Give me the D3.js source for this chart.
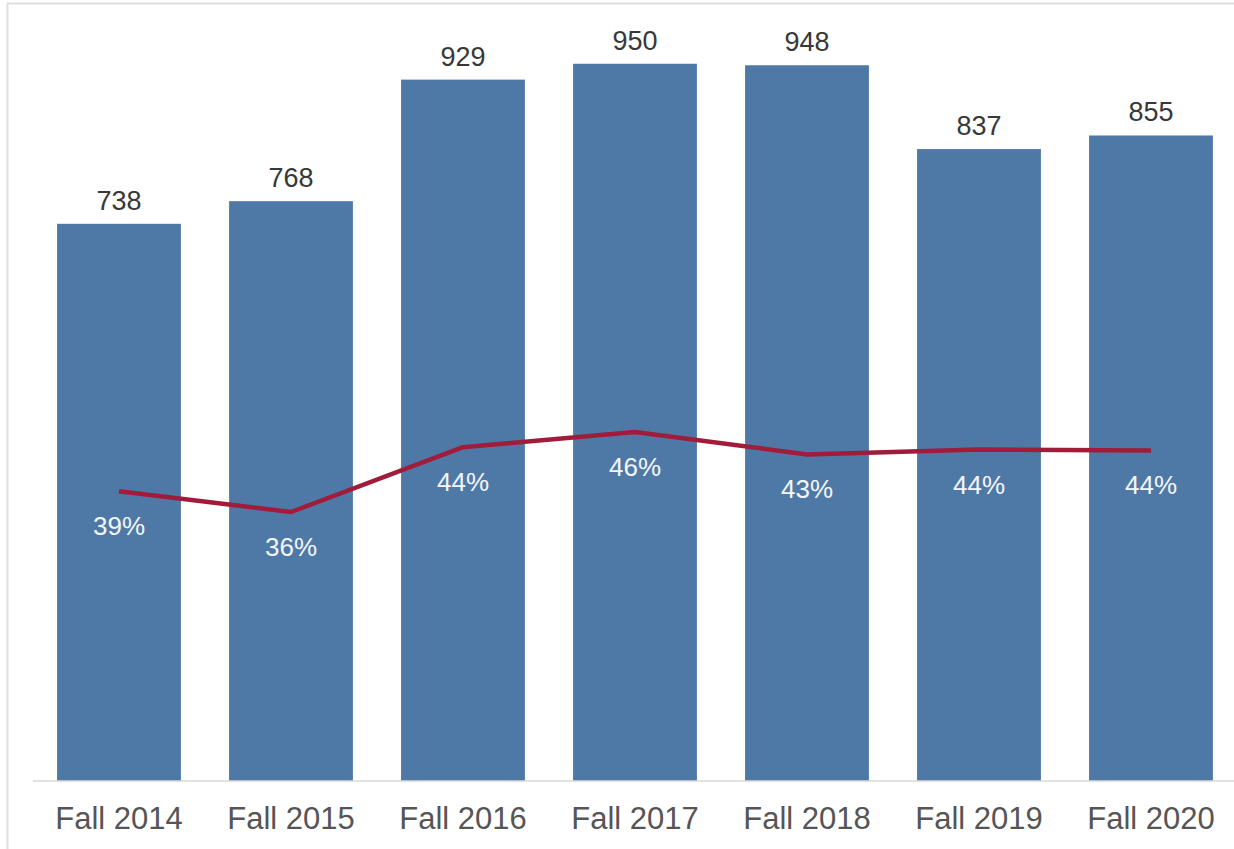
<!DOCTYPE html>
<html>
<head>
<meta charset="utf-8">
<script src="https://cdn.jsdelivr.net/npm/d3@7"></script>
<style>
  body { margin: 0; background: #fff; }
  svg { display: block; font-family: "Liberation Sans", Arial, sans-serif; }
</style>
</head>
<body>
<div id="chart"></div>
<script>
// terms, headcount per fall term and the share (%) drawn as the red line
const terms = ["Fall 2014", "Fall 2015", "Fall 2016", "Fall 2017", "Fall 2018", "Fall 2019", "Fall 2020"];
const counts = [738, 768, 929, 950, 948, 837, 855];
const shares = [38.6, 36.0, 44.1, 46.0, 43.2, 43.8, 43.7];

const width = 1234;
const height = 849;

const svg = d3
  .select("#chart")
  .append("svg")
  .attr("width", width)
  .attr("height", height);

// frame of the original screenshot
svg.append("path")
  .attr("d", "M7.5," + height + "V3.5H" + width)
  .attr("fill", "none")
  .attr("stroke", "#dedede")
  .attr("stroke-width", 2);

const x = d3
  .scaleBand()
  .domain(terms)
  .range([33, 1237])
  .paddingInner(0.28)
  .paddingOuter(0.14);

const y = d3.scaleLinear().domain([0, 1000]).range([781, 26]);
// second scale for the percentages
const y2 = d3.scaleLinear().domain([0, 100]).range([800, 0]);

// bars
svg.selectAll(".bar")
  .data(counts)
  .enter()
  .append("rect")
  .attr("class", "bar")
  .attr("x", (d, i) => x(terms[i]))
  .attr("width", x.bandwidth())
  .attr("y", d => y(d))
  .attr("height", d => y(0) - y(d))
  .attr("fill", "#4e79a7");

// bar value labels
svg.selectAll(".count")
  .data(counts)
  .enter()
  .append("text")
  .attr("class", "count")
  .attr("x", (d, i) => x(terms[i]) + x.bandwidth() / 2)
  .attr("y", d => y(d) - 14)
  .attr("text-anchor", "middle")
  .attr("font-size", 27)
  .attr("fill", "#383838")
  .text(d => d);

// x axis
const xAxis = svg.append("g")
  .attr("transform", "translate(0," + y(0) + ")")
  .call(d3.axisBottom(x).tickSize(0).tickPadding(0));
xAxis.select(".domain").remove();
xAxis.append("line")
  .attr("x1", 33)
  .attr("x2", width)
  .attr("stroke", "#d9d9d9")
  .attr("stroke-width", 1.5);
xAxis.selectAll(".tick text")
  .attr("y", 48)
  .attr("dy", 0)
  .attr("font-size", 31)
  .attr("font-family", "'Liberation Sans', Arial, sans-serif")
  .attr("fill", "#555");

// share line
const line = d3
  .line()
  .x((d, i) => x(terms[i]) + x.bandwidth() / 2)
  .y(d => y2(d));

svg.append("path")
  .datum(shares)
  .attr("d", line)
  .attr("fill", "none")
  .attr("stroke", "#a11c3b")
  .attr("stroke-width", 4.5)
  .attr("stroke-linejoin", "round");

svg.selectAll(".share")
  .data(shares)
  .enter()
  .append("text")
  .attr("class", "share")
  .attr("x", (d, i) => x(terms[i]) + x.bandwidth() / 2)
  .attr("y", d => y2(d) + 44)
  .attr("text-anchor", "middle")
  .attr("font-size", 26)
  .attr("fill", "#f4f6fa")
  .text(d => Math.round(d) + "%");
</script>
</body>
</html>
